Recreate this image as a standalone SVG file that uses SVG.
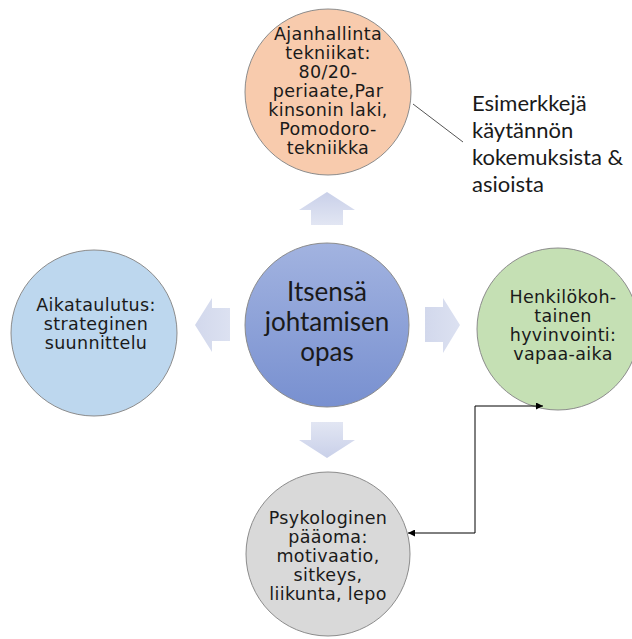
<svg xmlns="http://www.w3.org/2000/svg" width="632" height="639" viewBox="0 0 632 639">
  <defs>
    <linearGradient id="gCenter" x1="0" y1="0" x2="0" y2="1">
      <stop offset="0" stop-color="#A2B3E0"/>
      <stop offset="1" stop-color="#7890D0"/>
    </linearGradient>
    <linearGradient id="gArrowV" x1="0" y1="0" x2="0" y2="1">
      <stop offset="0" stop-color="#C9D0E9"/>
      <stop offset="1" stop-color="#E2E6F3"/>
    </linearGradient>
    <linearGradient id="gArrowD" x1="0" y1="0" x2="0" y2="1">
      <stop offset="0" stop-color="#E2E6F3"/>
      <stop offset="1" stop-color="#C9D0E9"/>
    </linearGradient>
    <linearGradient id="gArrowH" x1="0" y1="0" x2="1" y2="0">
      <stop offset="0" stop-color="#D2D8EC"/>
      <stop offset="1" stop-color="#DCE1F1"/>
    </linearGradient>
    <marker id="arrowEnd" viewBox="0 0 10 10" refX="10" refY="5" markerWidth="7" markerHeight="7" markerUnits="userSpaceOnUse" orient="auto-start-reverse">
      <path d="M0,0 L10,5 L0,10 z" fill="#000"/>
    </marker>
  </defs>
  <style>
    .node { stroke: #8C8C8C; stroke-width: 1; }
    .lbl { font-family: "DejaVu Sans", "Verdana", sans-serif; font-size: 17.5px; letter-spacing: 0.35px; fill: #1A1A1A; text-anchor: middle; }
    .big { font-family: "Lato", "Open Sans", sans-serif; font-size: 26px; fill: #1A1A1A; text-anchor: middle; }
    .note { font-family: "Lato", "Open Sans", sans-serif; font-size: 22px; fill: #1A1A1A; }
    .conn { fill: none; stroke: #000; stroke-width: 1; }
  </style>
  <rect width="632" height="639" fill="#FFFFFF"/>

  <!-- block arrows radiating from the hub -->
  <g id="arrows">
    <path d="M327,192 L355,210 L343,210 L343,225 L311,225 L311,210 L299,210 Z" fill="url(#gArrowV)"/>
    <path d="M327,458 L355,440 L343,440 L343,422 L311,422 L311,440 L299,440 Z" fill="url(#gArrowD)"/>
    <path d="M195,325 L212,298 L212,308 L230,308 L230,341 L212,341 L212,352 Z" fill="url(#gArrowH)"/>
    <path d="M460,325 L443,298 L443,307 L425,307 L425,342 L443,342 L443,353 Z" fill="url(#gArrowH)"/>
  </g>

  <g id="hub">
    <circle class="node" cx="327" cy="325" r="82" fill="url(#gCenter)"/>
    <text class="big"><tspan x="327" y="301">Itsensä</tspan><tspan x="327" y="331">johtamisen</tspan><tspan x="327" y="361">opas</tspan></text>
  </g>

  <g id="node-top">
    <circle class="node" cx="328" cy="92" r="83" fill="#F8CBAD"/>
    <text class="lbl"><tspan x="328" y="40">Ajanhallinta</tspan><tspan x="328" y="59">tekniikat:</tspan><tspan x="328" y="78">80/20-</tspan><tspan x="328" y="97">periaate,Par</tspan><tspan x="328" y="116">kinsonin laki,</tspan><tspan x="328" y="135">Pomodoro-</tspan><tspan x="328" y="154">tekniikka</tspan></text>
  </g>

  <g id="node-left">
    <circle class="node" cx="94" cy="333" r="83" fill="#BDD7EE"/>
    <text class="lbl"><tspan x="96" y="311">Aikataulutus:</tspan><tspan x="96" y="330">strateginen</tspan><tspan x="96" y="349">suunnittelu</tspan></text>
  </g>

  <g id="node-right">
    <circle class="node" cx="558" cy="329" r="81" fill="#C5E0B4"/>
    <text class="lbl"><tspan x="563" y="303">Henkilökoh-</tspan><tspan x="563" y="322">tainen</tspan><tspan x="563" y="341">hyvinvointi:</tspan><tspan x="563" y="360">vapaa-aika</tspan></text>
  </g>

  <g id="node-bottom">
    <circle class="node" cx="328" cy="554" r="82" fill="#D9D9D9"/>
    <text class="lbl"><tspan x="328" y="524">Psykologinen</tspan><tspan x="328" y="543">pääoma:</tspan><tspan x="328" y="562">motivaatio,</tspan><tspan x="328" y="581">sitkeys,</tspan><tspan x="328" y="600">liikunta, lepo</tspan></text>
  </g>

  <g id="note">
    <text class="note"><tspan x="472" y="111">Esimerkkejä</tspan><tspan x="472" y="138">käytännön</tspan><tspan x="472" y="165">kokemuksista &amp;</tspan><tspan x="472" y="192">asioista</tspan></text>
  </g>

  <g id="connectors">
    <line x1="413" y1="104" x2="463" y2="142" stroke="#555" stroke-width="1"/>
    <path class="conn" d="M543,406 H475 V533 H408" marker-start="url(#arrowEnd)" marker-end="url(#arrowEnd)"/>
  </g>
</svg>
